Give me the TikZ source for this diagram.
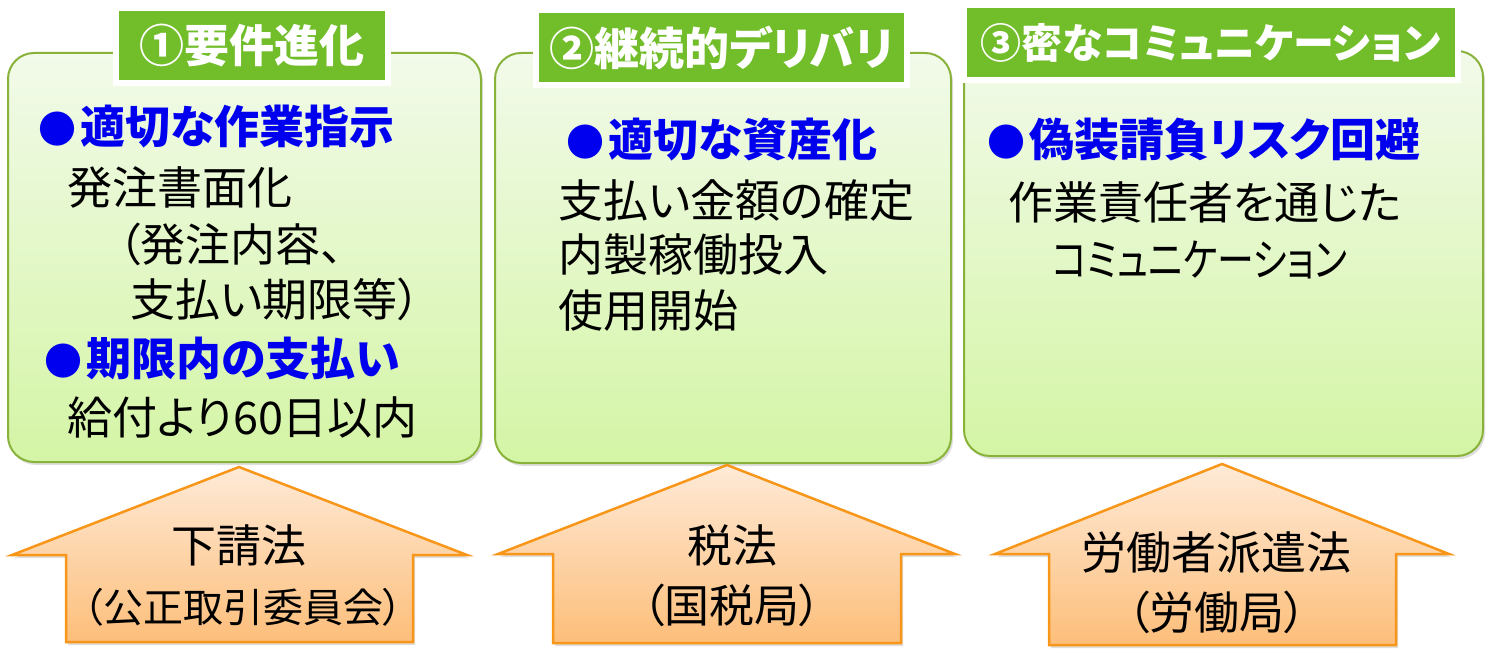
\documentclass[tikz,border=0pt]{standalone}
\usepackage{fontspec}
\setmainfont{Noto Sans CJK JP}[RawFeature=+palt]
\newfontfamily\narrowkana{Noto Sans CJK JP}[RawFeature=+palt, FakeStretch=0.82]
\usepackage{tikz}
\usetikzlibrary{shadows}
\definecolor{panelTop}{RGB}{242,250,234}
\definecolor{panelBot}{RGB}{212,245,165}
\definecolor{panelEdge}{RGB}{136,178,58}
\definecolor{tabGreen}{RGB}{113,189,42}
\definecolor{pointBlue}{RGB}{0,0,238}
\definecolor{lawTop}{RGB}{254,234,215}
\definecolor{lawBot}{RGB}{253,190,122}
\definecolor{lawEdge}{RGB}{247,150,24}
\newcommand{\ballmark}{{\fontsize{38pt}{38pt}\selectfont ●}\kern4pt}
\tikzset{
  panel/.style={rectangle, rounded corners=26pt, draw=panelEdge, line width=2pt, top color=panelTop, bottom color=panelBot, anchor=north west, drop shadow={shadow xshift=2pt, shadow yshift=-3pt, opacity=0.25}},
  tab/.style={rectangle, draw=white, line width=6pt, fill=tabGreen, text=white, minimum height=75pt, font=\bfseries\fontsize{45pt}{52pt}\selectfont, drop shadow={shadow xshift=2pt, shadow yshift=-3pt, opacity=0.3}},
  point/.style={anchor=west, inner sep=0pt, text=pointBlue, font=\bfseries\fontsize{45pt}{54pt}\selectfont},
  body/.style={anchor=west, inner sep=0pt, font=\fontsize{45pt}{54pt}\selectfont},
  lawarrow/.style={draw=lawEdge, line width=2.5pt, line join=miter, top color=lawTop, bottom color=lawBot, drop shadow={shadow xshift=2pt, shadow yshift=-3pt, opacity=0.25}},
  lawtext/.style={inner sep=0pt, font=\fontsize{45pt}{54pt}\selectfont}
}
\begin{document}
\begin{tikzpicture}[x=1pt, y=-1pt]
  \useasboundingbox (0,0) rectangle (1489,655);
  % panels
  \node[panel, minimum width=473pt, minimum height=409pt] (p1) at (7,52) {};
  \node[panel, minimum width=456pt, minimum height=410pt] (p2) at (494,52) {};
  \node[panel, minimum width=519pt, minimum height=405pt] (p3) at (963,50) {};
  % titles
  \node[tab, minimum width=272pt] (t1) at (252,45.5) {①要件進化};
  \node[tab, minimum width=371pt] (t2) at (721.5,47.5) {②継続的デリバリ};
  \node[tab, minimum width=494pt, font=\bfseries\fontsize{41pt}{50pt}\selectfont] (t3) at (1211,42.5) {③密なコミュニケーション};
  % panel 1
  \node[point] (a1) at (38,127) {\ballmark 適切な作業指示};
  \node[body] (a2) at (67,187) {発注書面化};
  \node[body] (a3) at (118,244) {（発注内容、};
  \node[body] (a4) at (130,299) {支払い期限等）};
  \node[point] (a5) at (44,358) {\ballmark 期限内の支払い};
  \node[body] (a6) at (67,417) {給付より60日以内};
  % panel 2
  \node[point] (b1) at (566,140) {\ballmark 適切な資産化};
  \node[body] (b2) at (558,200) {支払い金額の確定};
  \node[body] (b3) at (558,255) {内製稼働投入};
  \node[body] (b4) at (558,310) {使用開始};
  % panel 3
  \node[point] (c1) at (987,139) {\ballmark 偽装請負リスク回避};
  \node[body] (c2) at (1008,202) {作業責任者を通じた};
  \node[body, font=\narrowkana\fontsize{45pt}{54pt}\selectfont] (c3) at (1052,260) {コミュニケーション};
  % laws
  \draw[lawarrow] (239,467) -- (467,555) -- (413,555) -- (413,642) -- (66,642) -- (66,555) -- (12,555) -- cycle;
  \draw[lawarrow] (727,465) -- (955,554) -- (901,554) -- (901,643) -- (553,643) -- (553,554) -- (498,554) -- cycle;
  \draw[lawarrow] (1222,464) -- (1449,554) -- (1396,554) -- (1396,645) -- (1049,645) -- (1049,554) -- (995,554) -- cycle;
  \node[lawtext] (law1) at (239,545) {下請法};
  \node[lawtext, font=\fontsize{40pt}{48pt}\selectfont] (law1b) at (243,607) {（公正取引委員会）};
  \node[lawtext] (law2) at (732,545) {税法};
  \node[lawtext] (law2b) at (732,605) {（国税局）};
  \node[lawtext] (law3) at (1216,553) {労働者派遣法};
  \node[lawtext] (law3b) at (1217,612) {（労働局）};
\end{tikzpicture}
\end{document}
